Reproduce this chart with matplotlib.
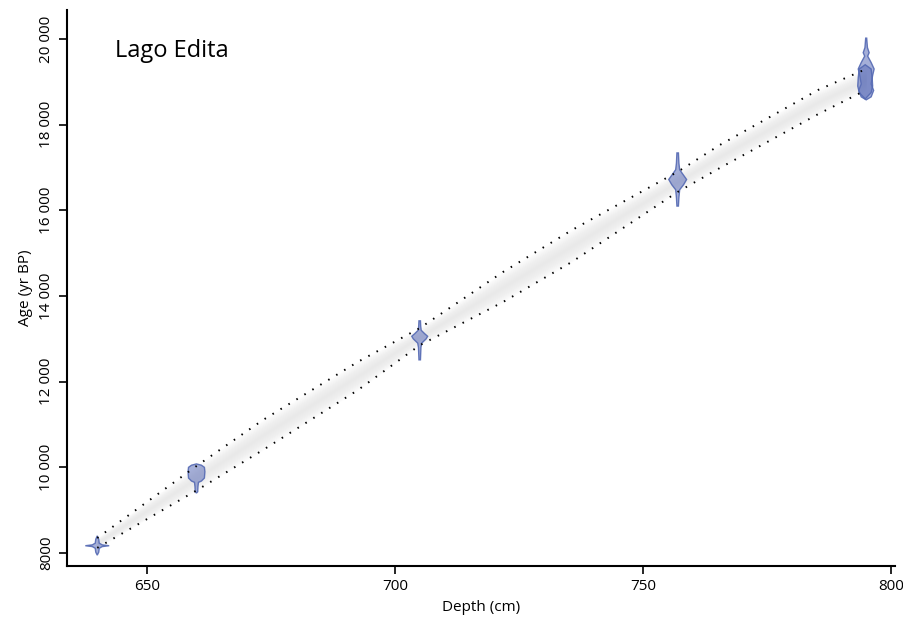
import matplotlib
matplotlib.use('Agg')
import matplotlib.pyplot as plt
import numpy as np

plt.rcParams['font.family'] = ['Open Sans', 'DejaVu Sans']

# model envelope (dotted lines)
depths = [640, 660, 673.4, 692.5, 705, 721.8, 735.7, 757, 765.5, 785.3, 795]
age_old = [8350, 10030, 11105, 12460, 13250, 14561, 15541, 16900, 17526, 18810, 19300]
age_young = [8120, 9460, 10405, 11801, 12850, 13860, 14798, 16430, 16989, 18245, 18810]

# calibrated dates: depth, ages of the profile, half width (cm)
date_depths = [640, 660, 705, 757, 795, 794.8]
date_ages = [
    [8400, 8320, 8230, 8190, 8170, 8150, 8110, 8020, 7950],
    [10080, 10050, 10000, 9900, 9750, 9680, 9650, 9550, 9430, 9400],
    [13420, 13300, 13200, 13120, 13060, 13000, 12900, 12800, 12510],
    [17340, 17100, 16950, 16850, 16720, 16600, 16480, 16300, 16100],
    [20020, 19800, 19680, 19600, 19450, 19300, 19150, 18950, 18800, 18650, 18580],
    [19400, 19300, 19100, 18900, 18750, 18600],
]
date_width = [
    [0.0, 0.3, 0.4, 1.0, 2.4, 1.0, 0.4, 0.3, 0.0],
    [0.0, 1.0, 1.6, 1.7, 1.6, 1.0, 0.4, 0.3, 0.25, 0.0],
    [0.15, 0.2, 0.3, 1.0, 1.6, 1.3, 0.4, 0.25, 0.15],
    [0.15, 0.25, 0.4, 1.0, 1.8, 1.2, 0.4, 0.25, 0.15],
    [0.1, 0.25, 0.6, 0.3, 1.0, 1.6, 1.3, 1.0, 1.5, 1.0, 0.0],
    [0.0, 1.2, 1.4, 1.5, 1.2, 0.0],
]

xticks = [650, 700, 750, 800]
yticks = [8000, 10000, 12000, 14000, 16000, 18000, 20000]
ylabels = ['8000', '10 000', '12 000', '14 000', '16 000', '18 000', '20 000']

fig = plt.figure(figsize=(9.04, 6.18), dpi=100)
ax = fig.add_axes([0.0741, 0.0841, 0.9159, 0.8997])

d = np.array(depths)
lo = np.array(age_young)
hi = np.array(age_old)
mid = (lo + hi) / 2
half = (hi - lo) / 2
# grey band, darker in the middle
for f in np.linspace(1.0, 0.05, 14):
    ax.fill_between(d, mid - half * f, mid + half * f, color='#e2e2e2',
                    alpha=0.07, lw=0)
ax.plot(d, hi, color='black', lw=1.4, ls=(0, (0.8, 4)))
ax.plot(d, lo, color='black', lw=1.4, ls=(0, (0.8, 4)))

for dep, ages, w in zip(date_depths, date_ages, date_width):
    ages = np.array(ages)
    w = np.array(w)
    xs = np.concatenate([dep - w, (dep + w)[::-1]])
    ys = np.concatenate([ages, ages[::-1]])
    ax.fill(xs, ys, facecolor=(0.36, 0.43, 0.72, 0.55),
            edgecolor=(0.33, 0.41, 0.70, 0.9), lw=1)

ax.set_xlim(633.9, 800.8)
ax.set_ylim(7696, 20677)
ax.spines['top'].set_visible(False)
ax.spines['right'].set_visible(False)
ax.spines['left'].set_linewidth(1.5)
ax.spines['bottom'].set_linewidth(1.5)
ax.set_xticks(xticks)
ax.set_yticks(yticks)
ax.set_yticklabels(ylabels, rotation=90, va='center')
ax.tick_params(direction='out', length=6, width=1.2, labelsize=11)
ax.set_xlabel('Depth (cm)', fontsize=11, labelpad=4)
ax.set_ylabel('Age (yr BP)', fontsize=11, labelpad=4)
ax.text(0.058, 0.927, 'Lago Edita', transform=ax.transAxes, fontsize=17,
        va='center', ha='left')

fig.savefig('out.png', dpi=100)
